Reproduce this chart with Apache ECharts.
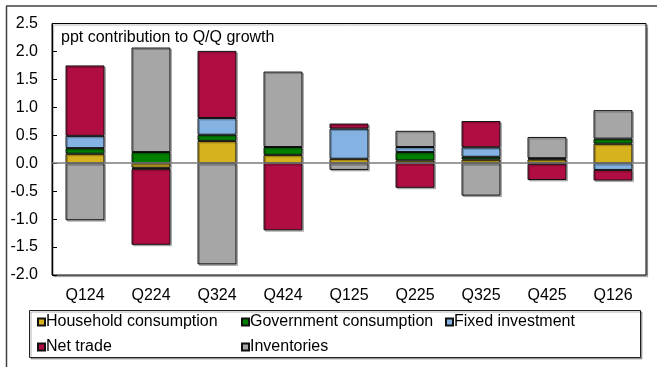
<!DOCTYPE html>
<html>
<head>
<meta charset="utf-8">
<script src="https://cdn.jsdelivr.net/npm/echarts@6/dist/echarts.min.js"></script>
<style>html,body{margin:0;padding:0;background:#fff}#c{width:657px;height:367px}</style>
</head>
<body>
<div id="c"></div>
<script>
var categories = ['Q124','Q224','Q324','Q424','Q125','Q225','Q325','Q425','Q126'];
var household   = [0.17, -0.08, 0.40, 0.15, 0.08, 0.05, 0.065, 0.07, 0.35];
var government  = [0.10, 0.20, 0.11, 0.14, null, 0.15, 0.05, 0.02, 0.09];
var fixedInv    = [0.22, -0.02, 0.30, null, 0.54, 0.09, 0.17, -0.01, -0.12];
var netTrade    = [1.26, -1.36, 1.20, -1.20, 0.09, -0.44, 0.47, -0.29, -0.19];
var inventories = [-1.02, 1.87, -1.81, 1.35, -0.12, 0.29, -0.58, 0.38, 0.51];
var yTicks = { min: -2.0, max: 2.5, step: 0.5 };

var FONT = 'Liberation Sans, Arial, sans-serif';
var chart = echarts.init(document.getElementById('c'), null, { renderer: 'canvas' });

function mk(name, data, color, extra) {
  var s = {
    name: name, type: 'bar', stack: 'total', stackStrategy: 'samesign',
    data: data, barWidth: '59%',
    itemStyle: { color: color, borderColor: '#111', borderWidth: 1,
      shadowColor: 'rgba(0,0,0,0.25)', shadowOffsetX: 1.5, shadowOffsetY: 1.5 },
    emphasis: { disabled: true }
  };
  if (extra) Object.assign(s, extra);
  return s;
}

var legendBase = {
  orient: 'vertical', padding: 0, itemWidth: 7, itemHeight: 7, itemGap: 9,
  textStyle: { fontFamily: FONT, fontSize: 16, color: '#000', lineHeight: 16, padding: [0, 0, 0, -4] },
  selectedMode: false, icon: 'rect'
};

chart.setOption({
  animation: false,
  backgroundColor: '#fff',
  grid: { left: 52, top: 23.5, right: 11, bottom: 92, show: true, borderColor: '#000', borderWidth: 1,
    backgroundColor: '#fff', shadowColor: 'rgba(0,0,0,0.3)', shadowOffsetX: 1.5, shadowOffsetY: 1.5, shadowBlur: 1 },
  legend: [
    Object.assign({}, legendBase, { left: 37, top: 314, data: ['Household consumption', 'Net trade'] }),
    Object.assign({}, legendBase, { left: 241, top: 314, data: ['Government consumption', 'Inventories'] }),
    Object.assign({}, legendBase, { left: 445, top: 314, data: ['Fixed investment'] })
  ],
  xAxis: {
    type: 'category', data: categories,
    axisLine: { show: false }, axisTick: { show: false },
    axisLabel: { fontFamily: FONT, fontSize: 16, color: '#000', margin: 13 }
  },
  yAxis: {
    type: 'value', min: yTicks.min, max: yTicks.max, interval: yTicks.step,
    axisLine: { show: true, lineStyle: { color: '#000', width: 1 } },
    axisTick: { show: true, inside: true, length: 5, lineStyle: { color: '#000' } },
    splitLine: { show: false },
    axisLabel: { fontFamily: FONT, fontSize: 16, color: '#000', margin: 14,
      formatter: function (v) { return v.toFixed(1); } }
  },
  series: [
    mk('Household consumption', household, '#D6B21F', {
      markLine: { silent: true, symbol: 'none', label: { show: false },
        lineStyle: { color: '#7a7a7a', width: 1.5, type: 'solid' },
        data: [{ yAxis: 0 }], z: 10 }
    }),
    mk('Government consumption', government, '#008000'),
    mk('Fixed investment', fixedInv, '#84B3E3'),
    mk('Net trade', netTrade, '#B00E42'),
    mk('Inventories', inventories, '#A6A6A6')
  ],
  graphic: [
    { type: 'line', silent: true, shape: { x1: 6, y1: 6, x2: 657, y2: 6 }, style: { stroke: '#404040', lineWidth: 1.5 } },
    { type: 'line', silent: true, shape: { x1: 6.5, y1: 6, x2: 6.5, y2: 367 }, style: { stroke: '#404040', lineWidth: 1.5 } },
    { type: 'rect', silent: true, z: -1, shape: { x: 29.5, y: 310.5, width: 611, height: 47 },
      style: { fill: '#fff', stroke: '#222', lineWidth: 1, shadowColor: 'rgba(0,0,0,0.3)', shadowOffsetX: 1.5, shadowOffsetY: 1.5 } },
    { type: 'text', silent: true, x: 61, y: 37.5, z: 20,
      style: { text: 'ppt contribution to Q/Q growth', fontFamily: FONT, fontSize: 16, fill: '#000', verticalAlign: 'middle' } }
  ]
});
</script>
</body>
</html>
